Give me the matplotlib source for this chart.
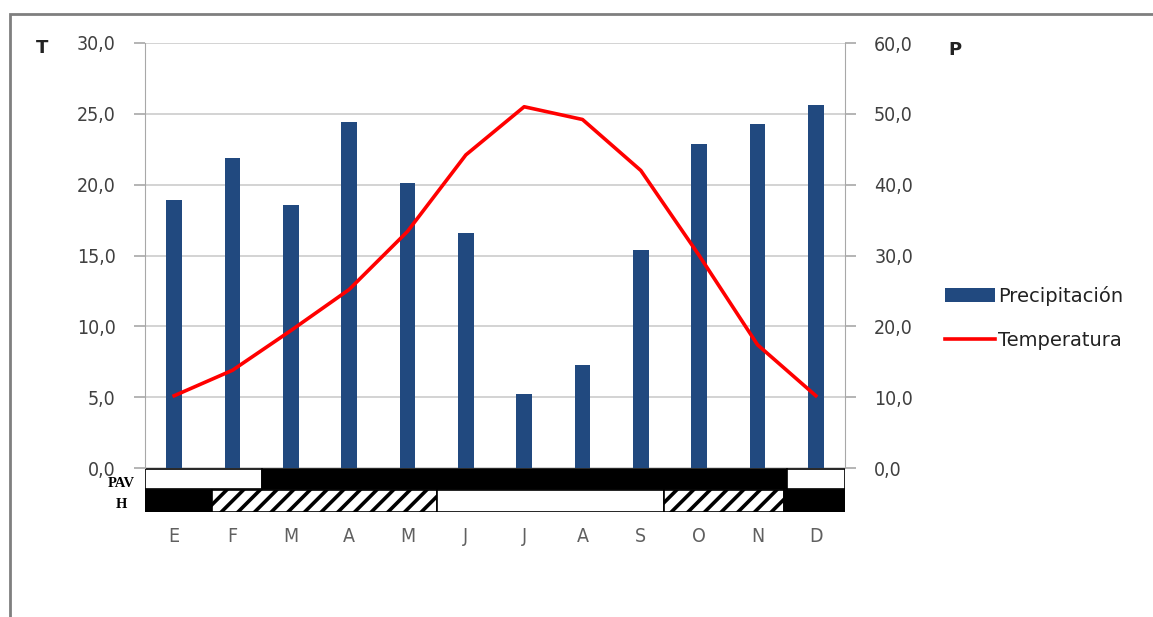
import numpy as np
import matplotlib.pyplot as plt
from matplotlib.patches import Rectangle

# climograma: temperatura (eje izq.) y precipitacion (eje der.)
meses = ['E', 'F', 'M', 'A', 'M', 'J', 'J', 'A', 'S', 'O', 'N', 'D']
precipitacion = [37.8, 43.8, 37.1, 48.8, 40.2, 33.2, 10.4, 14.5, 30.8, 45.7, 48.6, 51.2]
temperatura = [5.1, 6.9, 9.7, 12.6, 16.7, 22.1, 25.5, 24.6, 21.0, 15.0, 8.7, 5.1]

# bandas inferiores (en meses): tramos (inicio, fin, estilo)
pav = [(0, 2, 'blanco'), (2, 11, 'negro'), (11, 12, 'blanco')]
heladas = [(0, 1.15, 'negro'), (1.15, 5.0, 'rayado'), (5.0, 8.9, 'blanco'),
           (8.9, 10.95, 'rayado'), (10.95, 12.05, 'negro')]

W, H = 1153, 617
plt.rcParams['hatch.linewidth'] = 2.6
gris = '#404040'

fig = plt.figure(figsize=(W / 100, H / 100), dpi=100)

# marco gris de la captura
fig.patches.append(Rectangle((10 / W, -0.1), 1.2, 1 - 14 / H + 0.1, transform=fig.transFigure,
                             fill=False, edgecolor='#7f7f7f', linewidth=2))

ax = fig.add_axes([145 / W, 1 - 468 / H, 700 / W, 425 / H])
ax2 = ax.twinx()

x = np.arange(12)
ax2.bar(x, precipitacion, width=0.27, color='#21497f', label='Precipitación', zorder=2)
ax.plot(x, temperatura, color='#ff0000', linewidth=2.6, label='Temperatura', zorder=3)
ax.set_zorder(ax2.get_zorder() + 1)
ax.patch.set_visible(False)

ax.set_xlim(-0.5, 11.5)
ax.set_ylim(0, 30)
ax2.set_ylim(0, 60)
ax.set_yticks(np.arange(0, 31, 5))
ax2.set_yticks(np.arange(0, 61, 10))
ax.set_yticklabels([('%.1f' % v).replace('.', ',') for v in np.arange(0, 31, 5)])
ax2.set_yticklabels([('%.1f' % v).replace('.', ',') for v in np.arange(0, 61, 10)])
ax.set_xticks([])
ax2.set_xticks([])

ax2.yaxis.grid(True, color='#cccccc', linewidth=1.2, zorder=0)
ax2.set_axisbelow(True)
for a in (ax, ax2):
    for s in ('top', 'bottom'):
        a.spines[s].set_visible(False)
    a.tick_params(axis='y', colors='#a8a8a8', labelcolor=gris, labelsize=14, length=8, width=1.2, pad=13)
    for lab in a.get_yticklabels():
        lab.set_fontstretch('condensed')
ax.spines['left'].set_color('#a8a8a8')
ax2.spines['right'].set_color('#a8a8a8')
ax.spines['right'].set_visible(False)
ax2.spines['left'].set_visible(False)

fig.text(42 / W, 1 - 48 / H, 'T', fontsize=13, fontweight='bold', ha='center', va='center', color='#222222')
fig.text(955 / W, 1 - 50 / H, 'P', fontsize=13, fontweight='bold', ha='center', va='center', color='#222222')

h1, l1 = ax2.get_legend_handles_labels()
h2, l2 = ax.get_legend_handles_labels()
fig.legend(h1 + h2, l1 + l2, loc='center left', bbox_to_anchor=(927 / W, 1 - 318 / H),
           frameon=False, fontsize=14, handlelength=2.6, handletextpad=0.15, labelspacing=1.3,
           labelcolor='#222222')

# bandas PAV y H
axb = fig.add_axes([145 / W, 1 - 512 / H, 700 / W, 44 / H])
axb.set_xlim(0, 12)
axb.set_ylim(0, 2)
filas = [(pav, 1.05, 0.9), (heladas, 0.0, 1.0)]
for tramos, y0, alto in filas:
    for ini, fin, estilo in tramos:
        if estilo == 'negro':
            axb.add_patch(Rectangle((ini, y0), fin - ini, alto, facecolor='black', edgecolor='black', lw=1.2))
        elif estilo == 'rayado':
            axb.add_patch(Rectangle((ini, y0), fin - ini, alto, facecolor='white', edgecolor='black',
                                    hatch='//', lw=1.2))
        else:
            axb.add_patch(Rectangle((ini, y0), fin - ini, alto, facecolor='white', edgecolor='black', lw=1.2))
axb.axis('off')
axb.text(-0.18, 1.3, 'PAV', fontsize=10.5, fontweight='bold', family='Liberation Serif', ha='right', va='center')
axb.text(-0.3, 0.35, 'H', fontsize=10.5, fontweight='bold', family='Liberation Serif', ha='right', va='center')

for i, m in enumerate(meses):
    fig.text((145 + (i + 0.5) * 700 / 12) / W, 1 - 537 / H, m, fontsize=14, color='#606060',
             ha='center', va='center', family='DejaVu Sans', fontstretch='condensed')

plt.savefig('out.png', dpi=100, facecolor='white')
